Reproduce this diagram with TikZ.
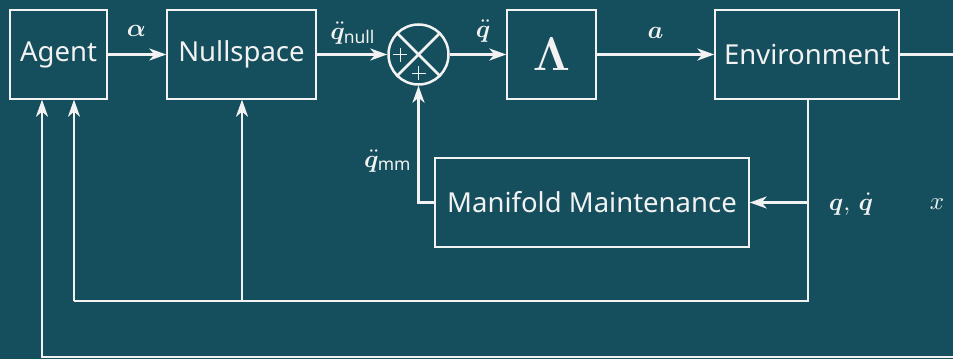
\documentclass[tikz,border=0pt]{standalone}
\usepackage{graphicx}
\usepackage{amsmath}
\usepackage{bm}
\usepackage{fontspec}
\setmainfont{Noto Sans}
\setsansfont{Noto Sans}
\usetikzlibrary{arrows.meta}
\definecolor{bgc}{HTML}{154E5C}
\definecolor{fgc}{HTML}{F2F2F2}
\newcommand{\sublbl}[1]{\text{\sffamily #1}}
\newcommand{\bigmath}[1]{\scalebox{2.5}{$#1$}}
\begin{document}
\begin{tikzpicture}[x=1pt,y=-1pt,
  blockbox/.style={draw=fgc,line width=1.4pt,text=fgc,inner sep=0pt,font=\fontsize{27.5}{32}\selectfont},
  conn/.style={draw=fgc,line width=2.5pt},
  arr/.style={conn,-{Stealth[length=17pt,width=12pt,inset=5pt]}},
  lbl/.style={text=fgc,inner sep=0pt}]
\fill[bgc] (0,0) rectangle (953,359);
\useasboundingbox (0,0) rectangle (953,359);
% blocks
\node[blockbox,minimum width=97pt,minimum height=89pt] (agent) at (58.5,54.5) {Agent};
\node[blockbox,minimum width=149pt,minimum height=89pt] (null) at (241.5,54.5) {Nullspace};
\node[circle,draw=fgc,line width=2.5pt,minimum size=60pt,inner sep=0pt] (sum) at (418.5,54.5) {};
\node[blockbox,minimum width=89pt,minimum height=89pt] (lam) at (551.5,54.5) {\scalebox{1.9}{$\bm{\Lambda}$}};
\node[blockbox,minimum width=184pt,minimum height=89pt] (env) at (807,54.5) {Environment};
\node[blockbox,minimum width=314pt,minimum height=89pt] (mm) at (592,202.5) {Manifold Maintenance};
% sum symbol
\draw[conn] (sum.north west) -- (sum.south east);
\draw[conn] (sum.north east) -- (sum.south west);
\draw[draw=fgc,line width=0.7pt] (393,54.5) -- (407,54.5) (400,47.5) -- (400,61.5);
\draw[draw=fgc,line width=0.7pt] (411.5,73) -- (425.5,73) (418.5,66) -- (418.5,80);
% coordinates
\coordinate (envd) at (808,99);
\coordinate (fbr) at (808,301);
\coordinate (fbl) at (74,301);
\coordinate (fbn) at (242,301);
\coordinate (mmtap) at (808,202.5);
\coordinate (mmcorner) at (418.5,202.5);
\coordinate (outr) at (953,54.5);
\coordinate (botl) at (42,357);
\coordinate (botr) at (953,357);
% forward path
\draw[arr] (agent.east) -- (null.west);
\draw[arr] (null.east) -- (sum.west);
\draw[arr] (sum.east) -- (lam.west);
\draw[arr] (lam.east) -- (env.west);
\draw[conn] (env.east) -- (outr);
% feedback
\draw[conn] (env.south -| envd) -- (fbr) -- (fbl);
\draw[arr] (fbl) -- (fbl |- agent.south);
\draw[arr] (fbn) -- (fbn |- null.south);
\draw[arr] (mmtap) -- (mm.east);
\draw[arr] (mm.west) -- (mmcorner) -- (sum.south);
\draw[arr] (botr) -- (botl) -- (botl |- agent.south);
% labels
\node[lbl] (la) at (136.5,31) {\bigmath{\bm{\alpha}}};
\node[lbl] (lqn) at (353,33) {\bigmath{\bm{\ddot q}_{\sublbl{null}}}};
\node[lbl] (lq) at (483,31) {\bigmath{\bm{\ddot q}}};
\node[lbl] (lacc) at (655.5,33) {\bigmath{\bm{a}}};
\node[lbl] (lqmm) at (388,161) {\bigmath{\bm{\ddot q}_{\sublbl{mm}}}};
\node[lbl] (lqq) at (851,204) {\bigmath{\bm{q},\,\bm{\dot q}}};
\node[lbl] (lx) at (937,204) {\bigmath{x}};
\end{tikzpicture}
\end{document}
